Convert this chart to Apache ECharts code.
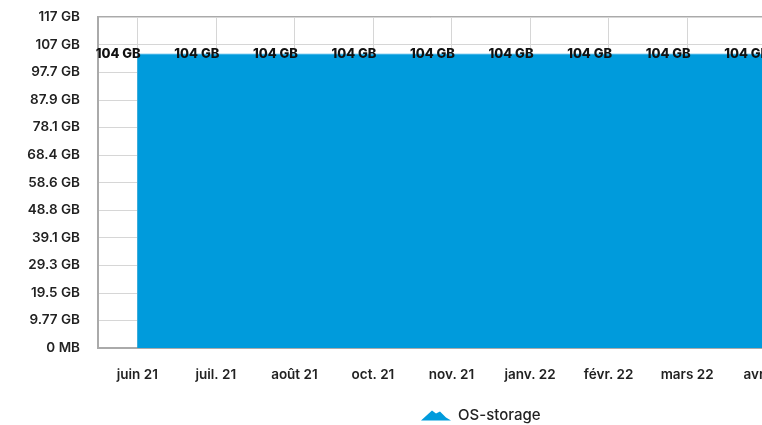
<!DOCTYPE html>
<html><head><meta charset="utf-8">
<script src="https://cdn.jsdelivr.net/npm/echarts@6/dist/echarts.min.js"></script>
<style>html,body{margin:0;padding:0;background:#fff}#c{width:762px;height:425px}</style>
</head><body><div id="c"></div>
<script>
const categories = ['juin 21','juil. 21','août 21','oct. 21','nov. 21','janv. 22','févr. 22','mars 22','avr. 22'];
const osStorage = [104,104,104,104,104,104,104,104,104];
const yTickLabels = ['0 MB','9.77 GB','19.5 GB','29.3 GB','39.1 GB','48.8 GB','58.6 GB','68.4 GB','78.1 GB','87.9 GB','97.7 GB','107 GB','117 GB'];
const yStep = 9.765625;
const seriesName = 'OS-storage';

const font = 'Inter';
const chart = echarts.init(document.getElementById('c'), null, {renderer:'canvas'});
chart.setOption({
  animation:false,
  grid:{left:98, top:17, width:707, bottom:77, outerBoundsMode:'none', containLabel:false,
    show:true, borderColor:'#aaa', borderWidth:2, backgroundColor:'transparent'},
  legend:{
    left:416, top:403, itemWidth:30, itemHeight:11, itemGap:10,
    icon:'path://M0,11 L11,1 L15,4 L19,2 L25,8 L30,11 Z',
    textStyle:{fontFamily:font, fontSize:15, fontWeight:500, color:'#222', padding:[0,0,0,2]},
    data:[seriesName]
  },
  xAxis:{
    type:'category', data:categories, boundaryGap:true,
    axisLine:{lineStyle:{color:'#aaa', width:2}},
    axisTick:{show:false},
    axisLabel:{fontFamily:font, fontSize:13.5, fontWeight:600, color:'#222', margin:20, interval:0},
    splitLine:{show:true, alignWithLabel:true, lineStyle:{color:'#d6d6d6', width:1}}
  },
  yAxis:{
    type:'value', min:0, max:yStep*12, interval:yStep,
    axisLine:{show:true, lineStyle:{color:'#aaa', width:2}},
    axisTick:{show:false},
    axisLabel:{fontFamily:font, fontSize:13.5, fontWeight:600, color:'#222', margin:18,
      formatter:v=>yTickLabels[Math.round(v/yStep)]},
    splitLine:{show:true, lineStyle:{color:'#d6d6d6', width:1}}
  },
  series:[{
    name:seriesName, type:'line', data:osStorage,
    showSymbol:true, symbol:'circle', symbolSize:0,
    itemStyle:{color:'#009bdc'},
    lineStyle:{color:'#38b0e6', width:1},
    areaStyle:{color:'#009bdc', opacity:1},
    label:{show:true, position:'inside', offset:[-19,0], fontFamily:font, fontSize:13, fontWeight:800, color:'#111',
      formatter:p=>Math.round(p.value)+' GB'}
  }]
});
</script></body></html>
